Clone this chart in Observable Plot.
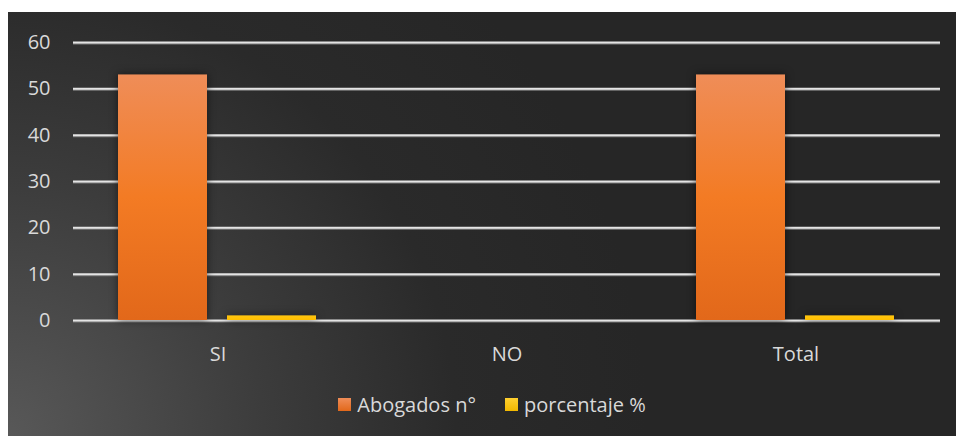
<!DOCTYPE html>
<html>
<head>
<meta charset="utf-8">
<script src="https://cdn.jsdelivr.net/npm/d3@7"></script>
<script src="https://cdn.jsdelivr.net/npm/@observablehq/plot@0.6"></script>
<style>
  html, body { margin: 0; padding: 0; background: #ffffff; }
  #panel {
    position: absolute; left: 8px; top: 12px; width: 948px; height: 424px;
    background: radial-gradient(circle 640px at 0% 100%, #585858 0%, #3c3c3c 40%, #2a2a2a 70%, #262626 100%);
    overflow: hidden;
  }
  #legend {
    position: absolute; left: 0; top: 379px; width: 948px; box-sizing: border-box; padding-left: 20px;
    display: flex; justify-content: center; align-items: center; gap: 29px;
    font-family: 'Open Sans', sans-serif; font-size: 20px; color: #d9d9d9;
  }
  .item { display: flex; align-items: center; gap: 6px; }
  .sw { width: 13px; height: 13px; display: inline-block; }
</style>
</head>
<body>
<svg width="0" height="0" style="position:absolute">
  <defs>
    <linearGradient id="gOrange" x1="0" y1="0" x2="0" y2="1">
      <stop offset="0%" stop-color="#EF8D58"/>
      <stop offset="50%" stop-color="#F37B24"/>
      <stop offset="100%" stop-color="#E2681A"/>
    </linearGradient>
    <linearGradient id="gYellow" x1="0" y1="0" x2="0" y2="1">
      <stop offset="0%" stop-color="#FFC510"/>
      <stop offset="100%" stop-color="#FFBE00"/>
    </linearGradient>
  </defs>
</svg>
<div id="panel">
  <div id="chart"></div>
  <div id="legend"></div>
</div>
<script>
const categories = ["SI", "NO", "Total"];
const series = ["Abogados n°", "porcentaje %"];
const abogados = [53, 0, 53];
const porcentaje = [1, 0, 1];
const yTicks = [0, 10, 20, 30, 40, 50, 60];

const rowsA = categories.map((c, i) => ({cat: c, serie: series[0], value: abogados[i]}));
const rowsP = categories.map((c, i) => ({cat: c, serie: series[1], value: porcentaje[i]}));

const plot = Plot.plot({
  width: 948,
  height: 360,
  marginLeft: 64,
  marginRight: 16,
  marginTop: 30,
  marginBottom: 52,
  style: {background: "transparent", color: "#d9d9d9", fontFamily: "'Open Sans', sans-serif", fontSize: "20px", overflow: "visible"},
  fx: {domain: categories, padding: 0, label: null, tickSize: 0, tickPadding: 26, axis: "bottom"},
  x: {domain: series, paddingInner: 0.182, paddingOuter: 0.406, axis: null},
  y: {domain: [0, 60], ticks: yTicks, tickSize: 0, tickPadding: 23, label: null},
  marks: [
    Plot.ruleY(yTicks, {stroke: "#7a7a7a", strokeWidth: 2, dy: 1}),
    Plot.ruleY(yTicks, {stroke: "#e4e4e4", strokeWidth: 2}),
    Plot.barY(rowsA, {fx: "cat", x: "serie", y: "value", fill: "url(#gOrange)"}),
    Plot.barY(rowsP, {fx: "cat", x: "serie", y: "value", fill: "url(#gYellow)"})
  ]
});
document.getElementById("chart").appendChild(plot);

// soft shadow around bars
plot.querySelectorAll('g[aria-label="bar"]').forEach(g => {
  g.style.filter = "drop-shadow(0px 0px 4px rgba(0,0,0,0.55))";
});

const legendColors = ["linear-gradient(#EF8D58, #E2681A)", "linear-gradient(#FFD030, #F2B800)"];
const legend = document.getElementById("legend");
series.forEach((s, i) => {
  const item = document.createElement("div");
  item.className = "item";
  const sw = document.createElement("span");
  sw.className = "sw";
  sw.style.background = legendColors[i];
  const t = document.createElement("span");
  t.textContent = s;
  item.appendChild(sw);
  item.appendChild(t);
  legend.appendChild(item);
});
</script>
</body>
</html>
